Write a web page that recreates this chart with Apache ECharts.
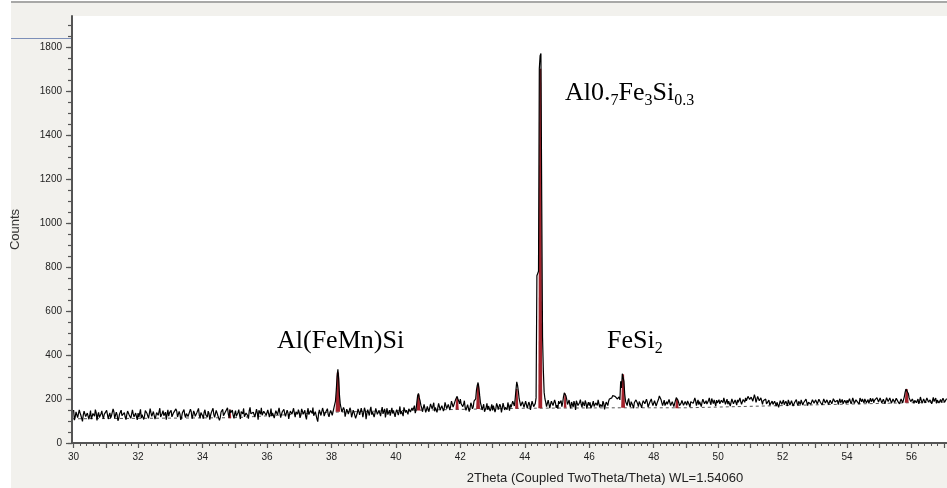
<!DOCTYPE html>
<html><head><meta charset="utf-8">
<script src="https://cdn.jsdelivr.net/npm/echarts@6/dist/echarts.min.js"></script>
<style>html,body{margin:0;padding:0;background:#fff;}#c{width:947px;height:488px;}</style>
</head><body><div id="c"></div>
<script>
// 2Theta grid of the measured pattern: counts at xStart + i*xStep, countsMid half a step later
const xStart = 30.0;
const xStep = 0.05;
// measured counts, one row per degree (30.00 ... 30.95, 31.00 ...)
const counts = [
150,118,132,121,137,112,128,140,119,131,125,109,134,122,138,127,116,133,124,130,
121,139,126,114,131,142,120,128,111,135,124,133,118,129,141,123,115,132,127,120,
136,125,113,130,122,144,131,119,138,126,134,121,147,129,118,135,124,140,130,122,
133,119,137,128,145,123,131,116,139,127,134,120,129,142,125,136,118,131,126,138,
124,140,129,117,135,126,143,130,121,137,128,115,133,124,139,146,131,152,136,127,
134,121,138,127,143,132,119,136,125,147,133,128,140,122,137,149,131,126,144,135,
128,141,133,122,139,131,146,125,137,129,143,134,120,138,130,145,127,136,142,131,
139,126,144,133,121,140,129,148,135,124,142,110,131,138,127,145,134,141,129,137,
146,132,150,240,335,215,158,140,151,129,143,136,148,131,139,112,135,144,128,141,
115,147,133,138,150,129,142,135,153,126,140,147,132,155,138,129,149,141,134,152,
139,156,144,131,150,162,138,147,155,141,159,148,136,185,225,192,160,150,168,152,
165,149,172,158,144,168,160,175,152,166,158,171,162,178,168,185,174,196,212,190,
200,183,176,160,150,168,158,172,165,190,240,275,215,168,155,142,162,151,170,158,
148,162,155,170,144,166,158,173,162,151,168,175,160,181,200,278,235,185,172,190,
168,182,160,175,171,185,166,205,760,1700,1770,480,230,185,170,192,176,188,165,183,
172,190,178,165,210,236,198,180,171,186,163,178,192,170,184,175,188,168,181,174,
170,158,176,166,182,171,188,175,165,180,172,186,190,198,205,222,212,205,200,196,
250,324,222,182,192,176,188,170,184,196,178,188,172,181,194,175,186,170,189,182,
178,185,176,200,212,195,182,170,188,176,184,172,190,180,206,195,170,181,194,176,
183,191,175,188,197,180,192,184,174,190,186,199,181,177,193,185,202,179,188,195,
186,178,194,183,200,188,176,192,185,203,181,190,196,179,188,184,198,205,191,210,
196,215,188,205,198,210,186,200,192,183,178,186,172,181,175,190,168,184,177,188,
182,174,190,168,185,178,193,172,186,180,189,175,191,183,178,194,185,188,179,196,
184,192,181,197,188,176,193,185,199,182,190,187,196,180,194,189,183,198,186,191,
195,185,200,189,193,182,198,190,204,187,195,200,183,197,192,188,202,194,185,199,
191,203,188,196,184,200,193,206,190,198,187,202,195,189,205,196,230,254,225,200,
188,205,194,183,200,191,207,186,197,190,202,185,199,193,188,204,195,182,198,190,
196,185,200
];
// counts at the mid points (30.025 ... 30.975, 31.025 ...)
const countsMid = [
104,141,115,150,126,98,145,120,136,108,147,118,131,152,103,139,122,146,111,135,
148,109,137,124,155,113,140,101,132,149,117,138,106,145,127,112,150,119,136,105,
118,153,129,107,147,135,112,156,121,143,109,138,126,158,114,147,130,106,151,137,
149,112,139,155,118,144,105,137,152,116,141,128,154,110,146,121,138,157,113,142,
110,151,124,145,106,139,158,117,148,125,103,141,153,120,132,160,115,138,149,112,
147,116,152,109,138,157,124,145,111,162,129,140,118,154,106,143,160,119,148,126,
150,118,156,137,113,147,128,160,115,142,153,121,149,109,145,131,158,117,139,152,
114,155,131,149,107,158,120,146,161,118,136,97,150,125,159,122,143,156,119,148,
126,158,190,300,290,175,141,162,120,154,131,160,117,149,136,104,155,128,158,117,
160,108,152,125,164,141,118,157,130,148,122,163,145,116,158,137,124,160,148,119,
152,127,166,145,122,158,149,130,163,135,147,170,150,215,205,172,142,175,139,166,
142,178,155,183,161,139,180,150,170,145,185,156,175,150,190,163,181,205,200,178,
178,165,192,148,174,143,183,155,190,200,262,250,182,150,176,133,180,168,145,176,
170,140,180,152,176,139,181,150,165,184,147,162,190,168,240,262,200,168,188,162,
190,158,186,150,190,165,180,760,780,1760,1100,330,200,165,195,158,190,170,196,160,
156,178,193,182,228,215,175,195,158,176,190,150,183,165,197,162,179,193,156,186,
185,150,190,158,175,196,162,183,190,153,186,170,200,195,215,208,218,200,210,280,
315,280,190,170,202,164,196,158,178,205,165,194,160,192,178,199,163,184,200,170,
192,168,190,214,198,170,195,162,176,198,170,188,165,186,204,183,162,193,171,189,
172,200,163,194,180,205,170,196,188,165,199,178,192,170,205,174,190,196,168,182,
197,170,185,205,176,199,190,168,200,178,196,172,185,205,176,198,185,192,212,198,
208,190,220,185,212,192,205,175,196,200,170,195,163,190,168,180,185,162,192,176,
195,165,180,196,172,192,168,185,197,170,182,196,172,190,199,170,193,176,197,181,
196,177,199,184,173,200,182,196,175,194,178,201,186,193,175,201,190,178,194,180,
183,201,178,205,180,196,186,176,195,200,182,208,190,180,204,196,183,190,206,186,
205,182,199,178,206,188,205,181,200,184,203,189,178,200,183,210,245,240,205,188,
200,180,203,192,178,209,180,200,182,205,186,196,178,207,197,180,201,190,184,204,
185,199
];
// fitted background [2theta, counts]
const background = [[29.95,110],[35,115],[38,140],[41,150],[44,158],[47,160],[49,160],[52,170],[56,183],[57.1,186]];
// identified peaks: [2theta, base counts, top counts, half width]
const peaks = [
[34.85,112,152,0.04],[38.20,142,320,0.07],[40.70,148,220,0.06],[41.90,152,205,0.05],
[42.55,154,268,0.06],[43.75,156,245,0.05],[44.48,158,1700,0.06],[45.25,160,225,0.04],
[47.05,160,312,0.06],[48.72,158,200,0.05],[55.85,183,245,0.06]
];
const yLabelValues = [0,200,400,600,800,1000,1200,1400,1600,1800];
const xLabelValues = [30,32,34,36,38,40,42,44,46,48,50,52,54,56];

const lineData = [];
counts.forEach((v,i)=>{
  lineData.push([+(xStart+i*xStep).toFixed(3), v]);
  if (i < countsMid.length) lineData.push([+(xStart+(i+0.5)*xStep).toFixed(3), countsMid[i]]);
});
const xMajor = []; for (let d=30; d<=57; d++) xMajor.push(d);
const xMinor = []; for (let i=150; i<=285; i++) xMinor.push(i/5);
const yMinor = []; for (let v=0; v<=1900; v+=50) yMinor.push(v);

const AX = '#555';
const chart = echarts.init(document.getElementById('c'), null, {renderer:'canvas'});
const serif = 'Liberation Serif';
const rich = {
  a:{fontFamily:serif,fontSize:26,color:'#000',verticalAlign:'bottom',lineHeight:30,padding:[0,0,3,0]},
  s:{fontFamily:serif,fontSize:16,color:'#000',verticalAlign:'bottom',lineHeight:30}
};
const plain = v => String(v);
chart.setOption({
  animation:false,
  backgroundColor:'#f2f1ed',
  grid:{left:72,right:0,top:16,bottom:45,show:true,backgroundColor:'#fff',borderWidth:0,containLabel:false,outerBoundsMode:'none'},
  xAxis:[
    {type:'value',min:29.95,max:57.1,position:'bottom',
     axisLine:{show:true,onZero:false,lineStyle:{color:AX,width:2}},
     axisTick:{show:true,length:5,customValues:xMajor,lineStyle:{color:AX,width:1.2}},
     axisLabel:{customValues:xLabelValues,formatter:plain,margin:9,fontSize:10,fontFamily:'Liberation Sans',color:'#222'},
     splitLine:{show:false}},
    {type:'value',min:29.95,max:57.1,position:'bottom',
     axisLine:{show:false},
     axisTick:{show:true,length:3,customValues:xMinor,lineStyle:{color:AX,width:1}},
     axisLabel:{show:false},splitLine:{show:false}}
  ],
  yAxis:[
    {type:'value',min:0,max:1940,position:'left',
     axisLine:{show:true,onZero:false,lineStyle:{color:AX,width:2}},
     axisTick:{show:true,length:6,customValues:yLabelValues,lineStyle:{color:AX,width:1.2}},
     axisLabel:{customValues:yLabelValues,formatter:plain,margin:10,fontSize:10,fontFamily:'Liberation Sans',color:'#222'},
     splitLine:{show:false},
     name:'Counts',nameLocation:'middle',nameGap:50,
     nameTextStyle:{fontSize:13,color:'#333',fontFamily:'Liberation Sans'}},
    {type:'value',min:0,max:1940,position:'left',
     axisLine:{show:false},
     axisTick:{show:true,length:4,customValues:yMinor,lineStyle:{color:AX,width:1.2}},
     axisLabel:{show:false},splitLine:{show:false}}
  ],
  series:[
    {type:'line',data:background,showSymbol:false,silent:true,z:1,
     lineStyle:{color:'#555',width:1,type:[3,3]}},
    {type:'custom',data:peaks,z:2,silent:true,encode:{x:0,y:2},
     renderItem:function(params,api){
       const pos=api.value(0),base=api.value(1),top=api.value(2),hw=api.value(3);
       const pts=[api.coord([pos-hw,base]),api.coord([pos-hw*0.5,top]),api.coord([pos+hw*0.5,top]),api.coord([pos+hw,base])];
       return {type:'polygon',shape:{points:pts},style:{fill:'#a3222c'}};
     }},
    {type:'line',data:lineData,showSymbol:false,silent:true,z:3,sampling:null,
     lineStyle:{color:'#000',width:1.2}}
  ],
  graphic:[
    {type:'rect',shape:{x:0,y:0,width:11,height:488},style:{fill:'#fff'},silent:true},
    {type:'rect',shape:{x:0,y:0,width:947,height:1},style:{fill:'#fff'},silent:true},
    {type:'line',shape:{x1:11,y1:2,x2:947,y2:2},style:{stroke:'#8f8f8f',lineWidth:1.5},silent:true},
    {type:'line',shape:{x1:11,y1:38.5,x2:71,y2:38.5},style:{stroke:'#7d8fb8',lineWidth:1},silent:true},
    {type:'text',x:605,y:478,silent:true,style:{text:'2Theta (Coupled TwoTheta/Theta) WL=1.54060',fontSize:13,fontFamily:'Liberation Sans',fill:'#222',textAlign:'center',textVerticalAlign:'middle'}},
    {type:'text',x:565,y:109,silent:true,style:{text:'{a|Al0.}{s|7}{a|Fe}{s|3}{a|Si}{s|0.3}',rich:rich,textVerticalAlign:'bottom'}},
    {type:'text',x:277,y:357,silent:true,style:{text:'{a|Al(FeMn)Si}',rich:rich,textVerticalAlign:'bottom'}},
    {type:'text',x:607,y:357,silent:true,style:{text:'{a|FeSi}{s|2}',rich:rich,textVerticalAlign:'bottom'}}
  ]
});
</script></body></html>
